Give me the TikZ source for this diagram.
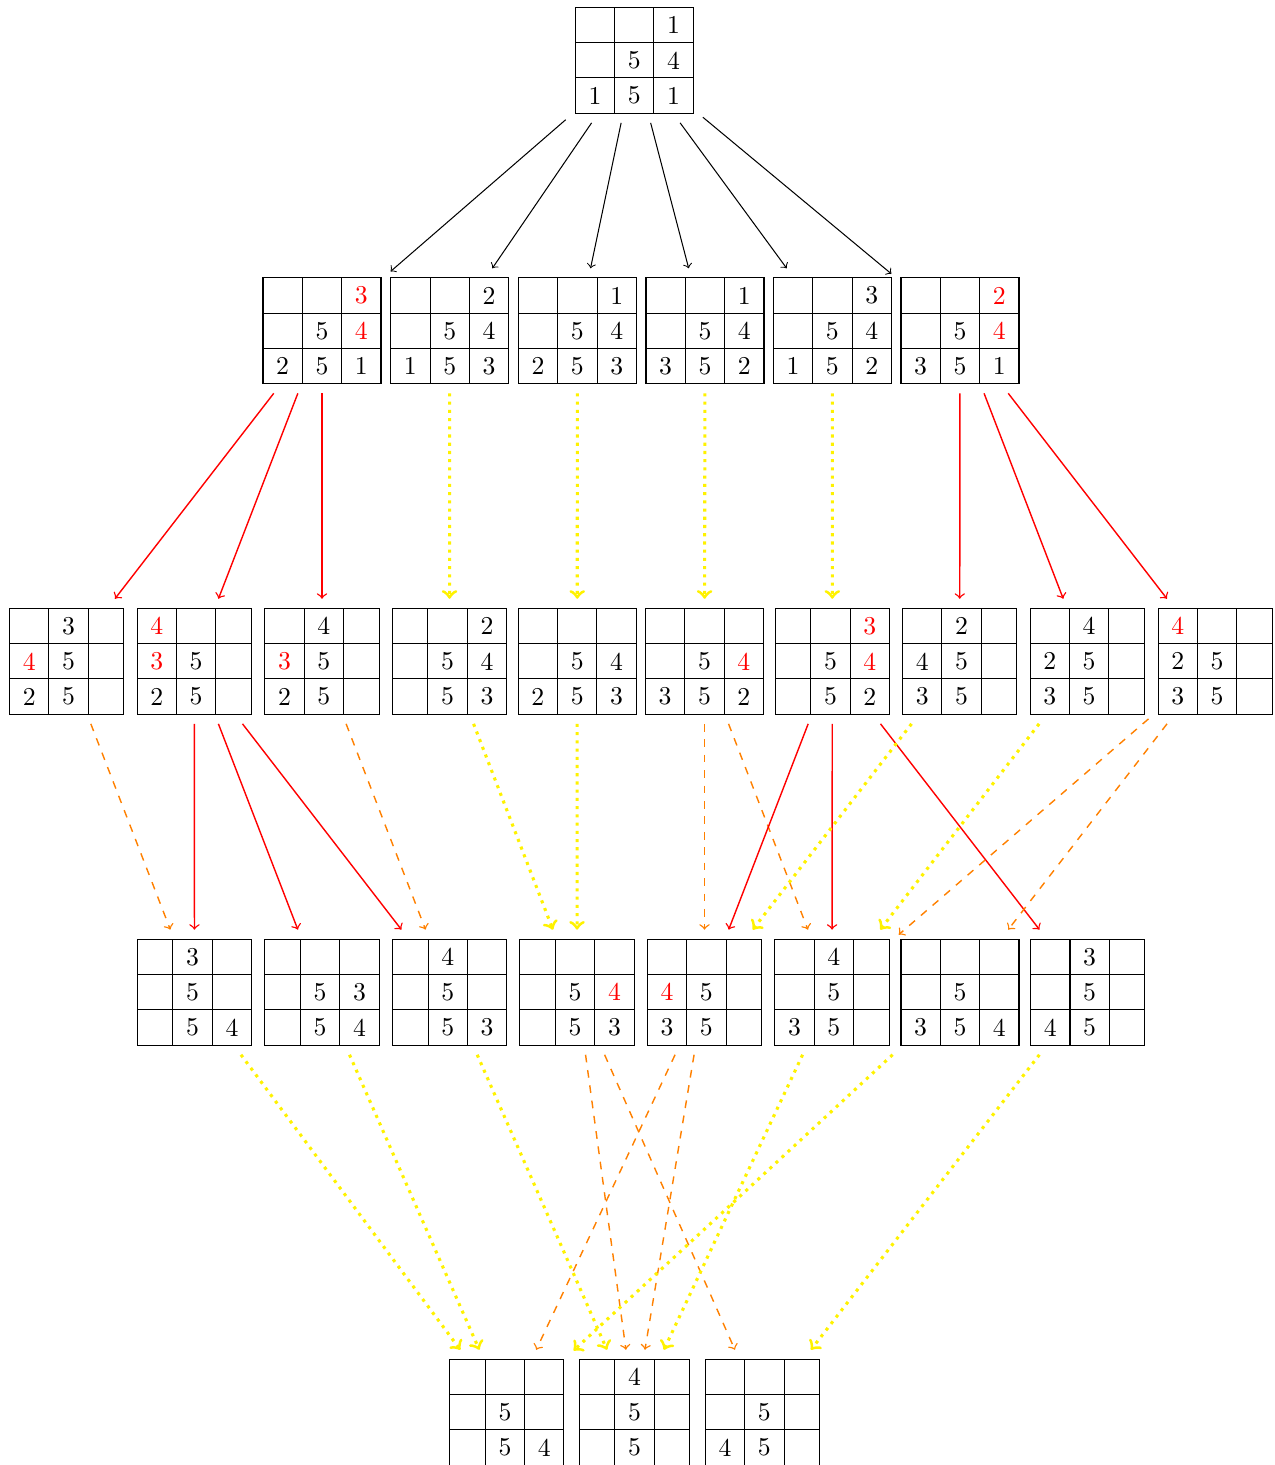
\documentclass[tikz,border=0pt]{standalone}
\usetikzlibrary{matrix}
\tikzset{
  cell/.style={draw, line width=0.4pt, minimum width=13.85pt, minimum height=13.73pt, inner sep=0pt, anchor=center},
  board/.style={matrix of nodes, nodes in empty cells, nodes={cell}, column sep=-0.4pt, row sep=-0.4pt},
  wide/.style={column #1/.style={nodes={minimum width=15.3pt}}},
  fff/.style={board, wide=1, wide=2, wide=3},
  ffe/.style={board, wide=1, wide=2},
  eff/.style={board, wide=2, wide=3},
  efe/.style={board, wide=2},
  blk/.style={->, line width=0.4pt, black},
  redar/.style={->, line width=0.55pt, red},
  orar/.style={->, line width=0.55pt, orange, dashed},
  yelar/.style={->, very thick, yellow, dotted},
}
\newcommand{\R}[1]{\textcolor{red}{#1}}
\begin{document}
\begin{tikzpicture}[x=0.389pt, y=-0.389pt]
\useasboundingbox (0,0) rectangle (1275,1465);
% level 0
\matrix[fff] (T) at (634.3,60.3) { & & 1\\ & 5 & 4\\ 1 & 5 & 1\\};
% level 1
\matrix[fff] (A1) at (322,330.8) { & & \R{3}\\ & 5 & \R{4}\\ 2 & 5 & 1\\};
\matrix[fff] (A2) at (449.7,330.8) { & & 2\\ & 5 & 4\\ 1 & 5 & 3\\};
\matrix[fff] (A3) at (577.4,330.8) { & & 1\\ & 5 & 4\\ 2 & 5 & 3\\};
\matrix[fff] (A4) at (705,330.8) { & & 1\\ & 5 & 4\\ 3 & 5 & 2\\};
\matrix[fff] (A5) at (832.4,330.8) { & & 3\\ & 5 & 4\\ 1 & 5 & 2\\};
\matrix[fff] (A6) at (960,330.8) { & & \R{2}\\ & 5 & \R{4}\\ 3 & 5 & 1\\};
% level 2
\matrix[ffe] (B1) at (66.7,661.3) { & 3 & \\ \R{4} & 5 & \\ 2 & 5 & \\};
\matrix[ffe] (B2) at (194.3,661.3) { \R{4} & & \\ \R{3} & 5 & \\ 2 & 5 & \\};
\matrix[ffe] (B3) at (322,661.3) { & 4 & \\ \R{3} & 5 & \\ 2 & 5 & \\};
\matrix[eff] (B4) at (449.5,661.3) { & & 2\\ & 5 & 4\\ & 5 & 3\\};
\matrix[fff] (B5) at (577.2,661.3) { & & \\ & 5 & 4\\ 2 & 5 & 3\\};
\matrix[fff] (B6) at (704.5,661.3) { & & \\ & 5 & \R{4}\\ 3 & 5 & 2\\};
\matrix[eff] (B7) at (832.3,661.3) { & & \R{3}\\ & 5 & \R{4}\\ & 5 & 2\\};
\matrix[ffe] (B8) at (959.7,661.3) { & 2 & \\ 4 & 5 & \\ 3 & 5 & \\};
\matrix[ffe] (B9) at (1087.3,661.3) { & 4 & \\ 2 & 5 & \\ 3 & 5 & \\};
\matrix[ffe] (B10) at (1215.2,661.3) { \R{4} & & \\ 2 & 5 & \\ 3 & 5 & \\};
% level 3
\matrix[eff] (C1) at (194.5,992.2) { & 3 & \\ & 5 & \\ & 5 & 4\\};
\matrix[eff] (C2) at (322,992.2) { & & \\ & 5 & 3\\ & 5 & 4\\};
\matrix[eff] (C3) at (449.7,992.2) { & 4 & \\ & 5 & \\ & 5 & 3\\};
\matrix[eff] (C4) at (577,992.2) { & & \\ & 5 & \R{4}\\ & 5 & 3\\};
\matrix[ffe] (C5) at (704.5,992.2) { & & \\ \R{4} & 5 & \\ 3 & 5 & \\};
\matrix[ffe] (C6) at (832,992.2) { & 4 & \\ & 5 & \\ 3 & 5 & \\};
\matrix[fff] (C7) at (960,992.2) { & & \\ & 5 & \\ 3 & 5 & 4\\};
\matrix[ffe] (C8) at (1087.8,992.2) { & 3 & \\ & 5 & \\ 4 & 5 & \\};
% level 4
\matrix[eff] (D1) at (506.8,1412.3) { & & \\ & 5 & \\ & 5 & 4\\};
\matrix[efe] (D2) at (634.5,1412.3) { & 4 & \\ & 5 & \\ & 5 & \\};
\matrix[ffe] (D3) at (762.5,1412.3) { & & \\ & 5 & \\ 4 & 5 & \\};
% edges level 0 -> 1
\foreach \t in {A1,A2,A3,A4,A5,A6} \draw[blk] (T) -- (\t);
% level 1 -> 2
\draw[redar] (A1) -- (B1);
\draw[redar] (A1) -- (B2);
\draw[redar] (A1) -- (B3);
\draw[yelar] (A2) -- (B4);
\draw[yelar] (A3) -- (B5);
\draw[yelar] (A4) -- (B6);
\draw[yelar] (A5) -- (B7);
\draw[redar] (A6) -- (B8);
\draw[redar] (A6) -- (B9);
\draw[redar] (A6) -- (B10);
% level 2 -> 3
\draw[orar] (B1) -- (C1);
\draw[redar] (B2) -- (C1);
\draw[redar] (B2) -- (C2);
\draw[redar] (B2) -- (C3);
\draw[orar] (B3) -- (C3);
\draw[yelar] (B4) -- (C4);
\draw[yelar] (B5) -- (C4);
\draw[orar] (B6) -- (C5);
\draw[orar] (B6) -- (C6);
\draw[redar] (B7) -- (C5);
\draw[redar] (B7) -- (C6);
\draw[redar] (B7) -- (C8);
\draw[yelar] (B8) -- (C5);
\draw[yelar] (B9) -- (C6);
\draw[orar] (B10) -- (C6);
\draw[orar] (B10) -- (C7);
% level 3 -> 4
\draw[yelar] (C1) -- (D1);
\draw[yelar] (C2) -- (D1);
\draw[yelar] (C3) -- (D2);
\draw[orar] (C4) -- (D2);
\draw[orar] (C4) -- (D3);
\draw[orar] (C5) -- (D1);
\draw[orar] (C5) -- (D2);
\draw[yelar] (C6) -- (D2);
\draw[yelar] (C7) -- (D1);
\draw[yelar] (C8) -- (D3);
\end{tikzpicture}
\end{document}
